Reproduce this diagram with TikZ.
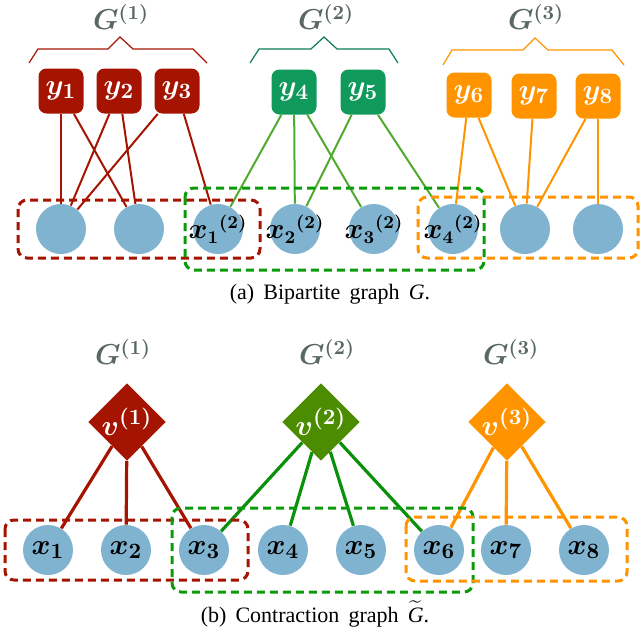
\documentclass[tikz,border=0pt]{standalone}
\usepackage{fontspec}
\usepackage{amsmath}
\setmainfont{Liberation Serif}
\usetikzlibrary{shapes.geometric}
\definecolor{redc}{HTML}{A51400}
\definecolor{tgreen}{HTML}{0F9A5C}
\definecolor{tgedge}{HTML}{4FAA2E}
\definecolor{dgreen}{HTML}{0A9A0A}
\definecolor{bgreen}{HTML}{4C8C00}
\definecolor{begreen}{HTML}{0A900A}
\definecolor{brgreen}{HTML}{0A7A55}
\definecolor{orangec}{HTML}{FF9400}
\definecolor{cblue}{HTML}{80B3D0}
\definecolor{lgray}{HTML}{5A6862}
\newcommand{\zw}[1]{\makebox[0pt]{#1}}
\begin{document}
\begin{tikzpicture}[x=0.5pt,y=-0.5pt,
  ybox/.style={rectangle,rounded corners=4pt,minimum size=22.5pt,inner sep=0pt,text=white,
    font=\boldmath\fontsize{15}{17}\selectfont},
  cnode/.style={circle,fill=cblue,minimum size=25pt,inner sep=0pt,text=black,
    font=\boldmath\fontsize{15.5}{17}\selectfont},
  tcnode/.style={cnode,font=\boldmath\fontsize{13.5}{15}\selectfont},
  dnode/.style={diamond,minimum size=31pt,inner sep=0pt,text=white,
    font=\boldmath\fontsize{15}{17}\selectfont},
  glabel/.style={text=lgray,font=\boldmath\fontsize{14}{16}\selectfont},
  tedge/.style={line width=1pt},
  bedge/.style={line width=1.6pt},
  dbox/.style={line width=1.5pt,dash pattern=on 4pt off 2.5pt,rounded corners=4.5pt},
  brace/.style={line width=0.6pt},
  capt/.style={font=\fontsize{11}{13}\selectfont,anchor=base}]
\useasboundingbox (0,0) rectangle (641,644);

% ---------- top panel ----------
\node[glabel] (g1) at (121,17) {$G^{(1)}$};
\node[glabel] (g2) at (326,17) {$G^{(2)}$};
\node[glabel] (g3) at (536,17) {$G^{(3)}$};

\draw[brace,redc] (29,63) -- (38,49) -- (108,49) -- (120,37) -- (133,49) -- (193,49) -- (207,63);
\draw[brace,brgreen] (250,63) -- (259,49) -- (311,49) -- (324,37) -- (337,49) -- (389,49) -- (398,63);
\draw[brace,orangec] (443,65) -- (452,50) -- (523,50) -- (535,38) -- (548,50) -- (612,50) -- (624,65);

\node[ybox,fill=redc] (y1) at (61,91) {$y_1$};
\node[ybox,fill=redc] (y2) at (119,91) {$y_2$};
\node[ybox,fill=redc] (y3) at (177,91) {$y_3$};
\node[ybox,fill=tgreen] (y4) at (294,92) {$y_4$};
\node[ybox,fill=tgreen] (y5) at (363,92) {$y_5$};
\node[ybox,fill=orangec] (y6) at (469,95) {$y_6$};
\node[ybox,fill=orangec] (y7) at (534,96) {$y_7$};
\node[ybox,fill=orangec] (y8) at (598,96) {$y_8$};

\node[cnode] (a1) at (61,229) {};
\node[cnode] (a2) at (139,229) {};
\node[tcnode] (a3) at (218,229) {\zw{$x_1{}^{(2)}$}};
\node[tcnode] (a4) at (295,229) {\zw{$x_2{}^{(2)}$}};
\node[tcnode] (a5) at (374,229) {\zw{$x_3{}^{(2)}$}};
\node[tcnode] (a6) at (453,229) {\zw{$x_4{}^{(2)}$}};
\node[cnode] (a7) at (525,229) {};
\node[cnode] (a8) at (598,229) {};

\draw[tedge,redc] (y1) -- (a1);
\draw[tedge,redc] (y1) -- (a2);
\draw[tedge,redc] (y2) -- (a1);
\draw[tedge,redc] (y2) -- (a2);
\draw[tedge,redc] (y3) -- (a1);
\draw[tedge,redc] (y3) -- (a3);
\draw[tedge,tgedge] (y4) -- (a3);
\draw[tedge,tgedge] (y4) -- (a4);
\draw[tedge,tgedge] (y4) -- (a5);
\draw[tedge,tgedge] (y5) -- (a4);
\draw[tedge,tgedge] (y5) -- (a6);
\draw[tedge,orangec] (y6) -- (a6);
\draw[tedge,orangec] (y6) -- (a7);
\draw[tedge,orangec] (y7) -- (a7);
\draw[tedge,orangec] (y8) -- (a7);
\draw[tedge,orangec] (y8) -- (a8);

\draw[dbox,redc] (18,200) rectangle (260,258);
\draw[dbox,dgreen] (185,188) rectangle (484,270);
\draw[dbox,orangec] (418,197) rectangle (638,258);

\node[capt] (capa) at (330,299) {(a)\, Bipartite\, graph\, \textit{G}.};

% ---------- bottom panel ----------
\node[glabel] (h1) at (123,352) {$G^{(1)}$};
\node[glabel] (h2) at (327,352) {$G^{(2)}$};
\node[glabel] (h3) at (511,352) {$G^{(3)}$};

\node[dnode,fill=redc] (v1) at (127,422) {$v^{(1)}$};
\node[dnode,fill=bgreen] (v2) at (321,422) {$v^{(2)}$};
\node[dnode,fill=orangec] (v3) at (507,422) {$v^{(3)}$};

\node[cnode] (b1) at (48,550) {$x_1$};
\node[cnode] (b2) at (126,550) {$x_2$};
\node[cnode] (b3) at (204,550) {$x_3$};
\node[cnode] (b4) at (283,550) {$x_4$};
\node[cnode] (b5) at (361,550) {$x_5$};
\node[cnode] (b6) at (439,550) {$x_6$};
\node[cnode] (b7) at (506,550) {$x_7$};
\node[cnode] (b8) at (584,550) {$x_8$};

\draw[bedge,redc] (v1) -- (b1);
\draw[bedge,redc] (v1) -- (b2);
\draw[bedge,redc] (v1) -- (b3);
\draw[bedge,begreen] (v2) -- (b3);
\draw[bedge,begreen] (v2) -- (b4);
\draw[bedge,begreen] (v2) -- (b5);
\draw[bedge,begreen] (v2) -- (b6);
\draw[bedge,orangec] (v3) -- (b6);
\draw[bedge,orangec] (v3) -- (b7);
\draw[bedge,orangec] (v3) -- (b8);

\draw[dbox,redc] (5,520) rectangle (248,580);
\draw[dbox,dgreen] (172,508) rectangle (473,592);
\draw[dbox,orangec] (406,517) rectangle (627,581);

\node[capt] (capb) at (315,622) {(b)\, Contraction\, graph\, $\widetilde{\textit{G}}$.};
\end{tikzpicture}
\end{document}
